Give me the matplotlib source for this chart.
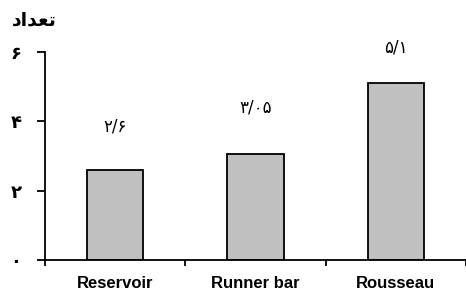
import matplotlib
matplotlib.use("Agg")
import matplotlib.pyplot as plt

categories = ["Reservoir", "Runner bar", "Rousseau"]
values = [2.6, 3.05, 5.1]
value_labels = ["\u06f2/\u06f6", "\u06f3/\u06f0\u06f5", "\u06f5/\u06f1"]
y_ticks = [0, 2, 4, 6]
y_tick_labels = ["\u06f0", "\u06f2", "\u06f4", "\u06f6"]
# "تعداد" in shaped presentation forms, visual order
y_title = "\uFEA9\uFE8D\uFEAA\uFECC\uFE97"

label_offsets_px = [43, 47, 36]

fig = plt.figure(figsize=(4.66, 2.98), dpi=100)
ax = fig.add_axes([45/466, 38/298, (466-45)/466, (260-52)/298])

x = list(range(len(categories)))
ax.bar(x, values, width=0.4, color="#c0c0c0", edgecolor="black", linewidth=1.3, zorder=2)

for xi, v, lab, off in zip(x, values, value_labels, label_offsets_px):
    ax.annotate(lab, (xi, v), xytext=(0, off * 0.72), textcoords="offset points",
                ha="center", va="center", fontsize=12, family="DejaVu Sans")

ax.set_xlim(-0.5, -0.5 + 421/143.5)
ax.set_ylim(0, 6)

for s in ["top", "right"]:
    ax.spines[s].set_visible(False)
for s in ["left", "bottom"]:
    ax.spines[s].set_linewidth(1.3)
    ax.spines[s].set_color("black")

ax.set_yticks(y_ticks)
ax.set_yticklabels(y_tick_labels, fontsize=13, fontweight="bold", family="DejaVu Sans")
ax.tick_params(axis="y", length=6, width=1.3, pad=11)

ax.set_xticks([-0.5, 0.5, 1.5, 2.5])
ax.set_xticklabels([])
ax.tick_params(axis="x", length=4, width=1.3)
for xi, c in zip(x, categories):
    ax.text(xi, -23/208, c, transform=ax.get_xaxis_transform(), ha="center", va="center",
            fontsize=12, fontweight="bold", family="Liberation Sans")

fig.text(12/466, 1 - 20/298, y_title, ha="left", va="center", fontsize=13.5,
         fontweight="bold", family="DejaVu Sans")

fig.savefig("out.png", dpi=100)
